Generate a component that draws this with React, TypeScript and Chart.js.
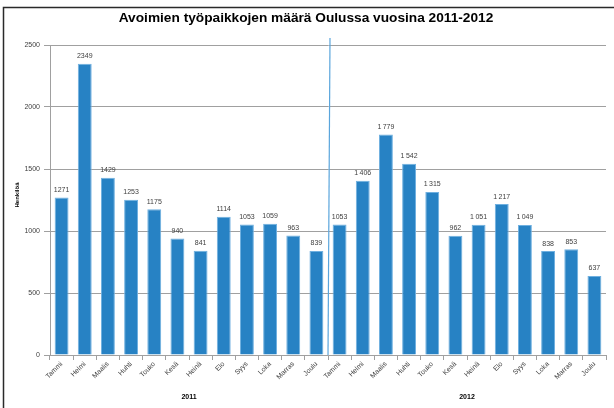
import React, { useEffect, useRef } from "react";
import { Chart, registerables } from "chart.js";

Chart.register(...registerables);

const months = ["Tammi", "Helmi", "Maalis", "Huhti", "Touko", "Kesä", "Heinä", "Elo", "Syys", "Loka", "Marras", "Joulu"];
const categories = [...months, ...months];
const values2011 = [1271, 2349, 1429, 1253, 1175, 940, 841, 1114, 1053, 1059, 963, 839];
const values2012 = [1053, 1406, 1779, 1542, 1315, 962, 1051, 1217, 1049, 838, 853, 637];
const values = [...values2011, ...values2012];
const yearLabels = ["2011", "2012"];
const yTicks = [0, 500, 1000, 1500, 2000, 2500];
const titleText = "Avoimien työpaikkojen määrä Oulussa vuosina 2011-2012";
const yTitle = "Henkilöä";

const FONT = "'Liberation Sans', Arial, sans-serif";

function fmt(v: number, i: number) {
  const s = String(v);
  if (i <= 12) return s;
  return s.length > 3 ? s.slice(0, s.length - 3) + "\u2009" + s.slice(s.length - 3) : s;
}

const overlay = {
  id: "overlay",
  afterDatasetsDraw(chart: any) {
    const ctx = chart.ctx;
    const x = chart.scales.x;
    const y = chart.scales.y;
    const area = chart.chartArea;
    ctx.save();
    const meta = chart.getDatasetMeta(0);
    ctx.fillStyle = "#404040";
    ctx.font = `7px ${FONT}`;
    ctx.textAlign = "center";
    ctx.textBaseline = "bottom";
    meta.data.forEach((bar: any, i: number) => {
      ctx.fillText(fmt(values[i], i), bar.x, bar.y - 4);
    });
    const sx = (x.getPixelForValue(11) + x.getPixelForValue(12)) / 2;
    ctx.strokeStyle = "#5aa5dc";
    ctx.lineWidth = 1.2;
    ctx.beginPath();
    ctx.moveTo(sx + 2, y.getPixelForValue(2500) - 7);
    ctx.lineTo(sx, area.bottom);
    ctx.stroke();
    ctx.fillStyle = "#000";
    ctx.font = `bold 7px ${FONT}`;
    ctx.textBaseline = "middle";
    const c1 = (x.getPixelForValue(0) + x.getPixelForValue(11)) / 2;
    const c2 = (x.getPixelForValue(12) + x.getPixelForValue(23)) / 2;
    ctx.fillText(yearLabels[0], c1, 397);
    ctx.fillText(yearLabels[1], c2, 397);
    ctx.font = `bold 13.7px ${FONT}`;
    ctx.fillText(titleText, 306, 18);
    ctx.save();
    ctx.translate(17, 195);
    ctx.rotate(-Math.PI / 2);
    ctx.font = `bold 6px ${FONT}`;
    ctx.fillText(yTitle, 0, 0);
    ctx.restore();
    ctx.strokeStyle = "#2a2a2a";
    ctx.lineWidth = 1.5;
    ctx.beginPath();
    ctx.moveTo(3.5, 408);
    ctx.lineTo(3.5, 7.5);
    ctx.lineTo(614, 7.5);
    ctx.stroke();
    ctx.restore();
  },
};

export default function App() {
  const ref = useRef<HTMLCanvasElement>(null);
  useEffect(() => {
    document.body.style.margin = "0";
    const chart = new Chart(ref.current!, {
      type: "bar",
      data: {
        labels: categories,
        datasets: [
          {
            data: values,
            backgroundColor: "#2782c4",
            borderColor: "#6fb0e0",
            borderWidth: { top: 1, left: 1, right: 1, bottom: 0 },
            barPercentage: 0.6,
            categoryPercentage: 1,
          },
        ],
      },
      options: {
        animation: false,
        responsive: false,
        devicePixelRatio: 1,
        layout: { padding: { left: 0, right: 8, top: 45, bottom: 0 } },
        plugins: { legend: { display: false }, title: { display: false }, tooltip: { enabled: false } },
        scales: {
          x: {
            grid: { drawOnChartArea: false, drawTicks: true, tickLength: 5, color: "#a0a0a0" },
            border: { color: "#a0a0a0" },
            ticks: {
              minRotation: 45,
              maxRotation: 45,
              autoSkip: false,
              font: { size: 7, family: FONT },
              color: "#404040",
              padding: 0,
            },
            afterFit(scale: any) {
              scale.height = 53;
            },
          },
          y: {
            min: 0,
            max: 2500,
            afterBuildTicks(scale: any) {
              scale.ticks = yTicks.map((v) => ({ value: v }));
            },
            grid: { color: "#a0a0a0", tickLength: 6 },
            border: { color: "#a0a0a0" },
            ticks: {
              font: { size: 7, family: FONT },
              color: "#404040",
              padding: 4,
              callback: (v: any) => String(v),
            },
            afterFit(scale: any) {
              scale.width = 50;
            },
          },
        },
      },
      plugins: [overlay],
    });
    return () => chart.destroy();
  }, []);
  return (
    <div style={{ position: "absolute", left: 0, top: 0, width: 614, height: 408, background: "#fff" }}>
      <canvas ref={ref} width={614} height={408} />
    </div>
  );
}
